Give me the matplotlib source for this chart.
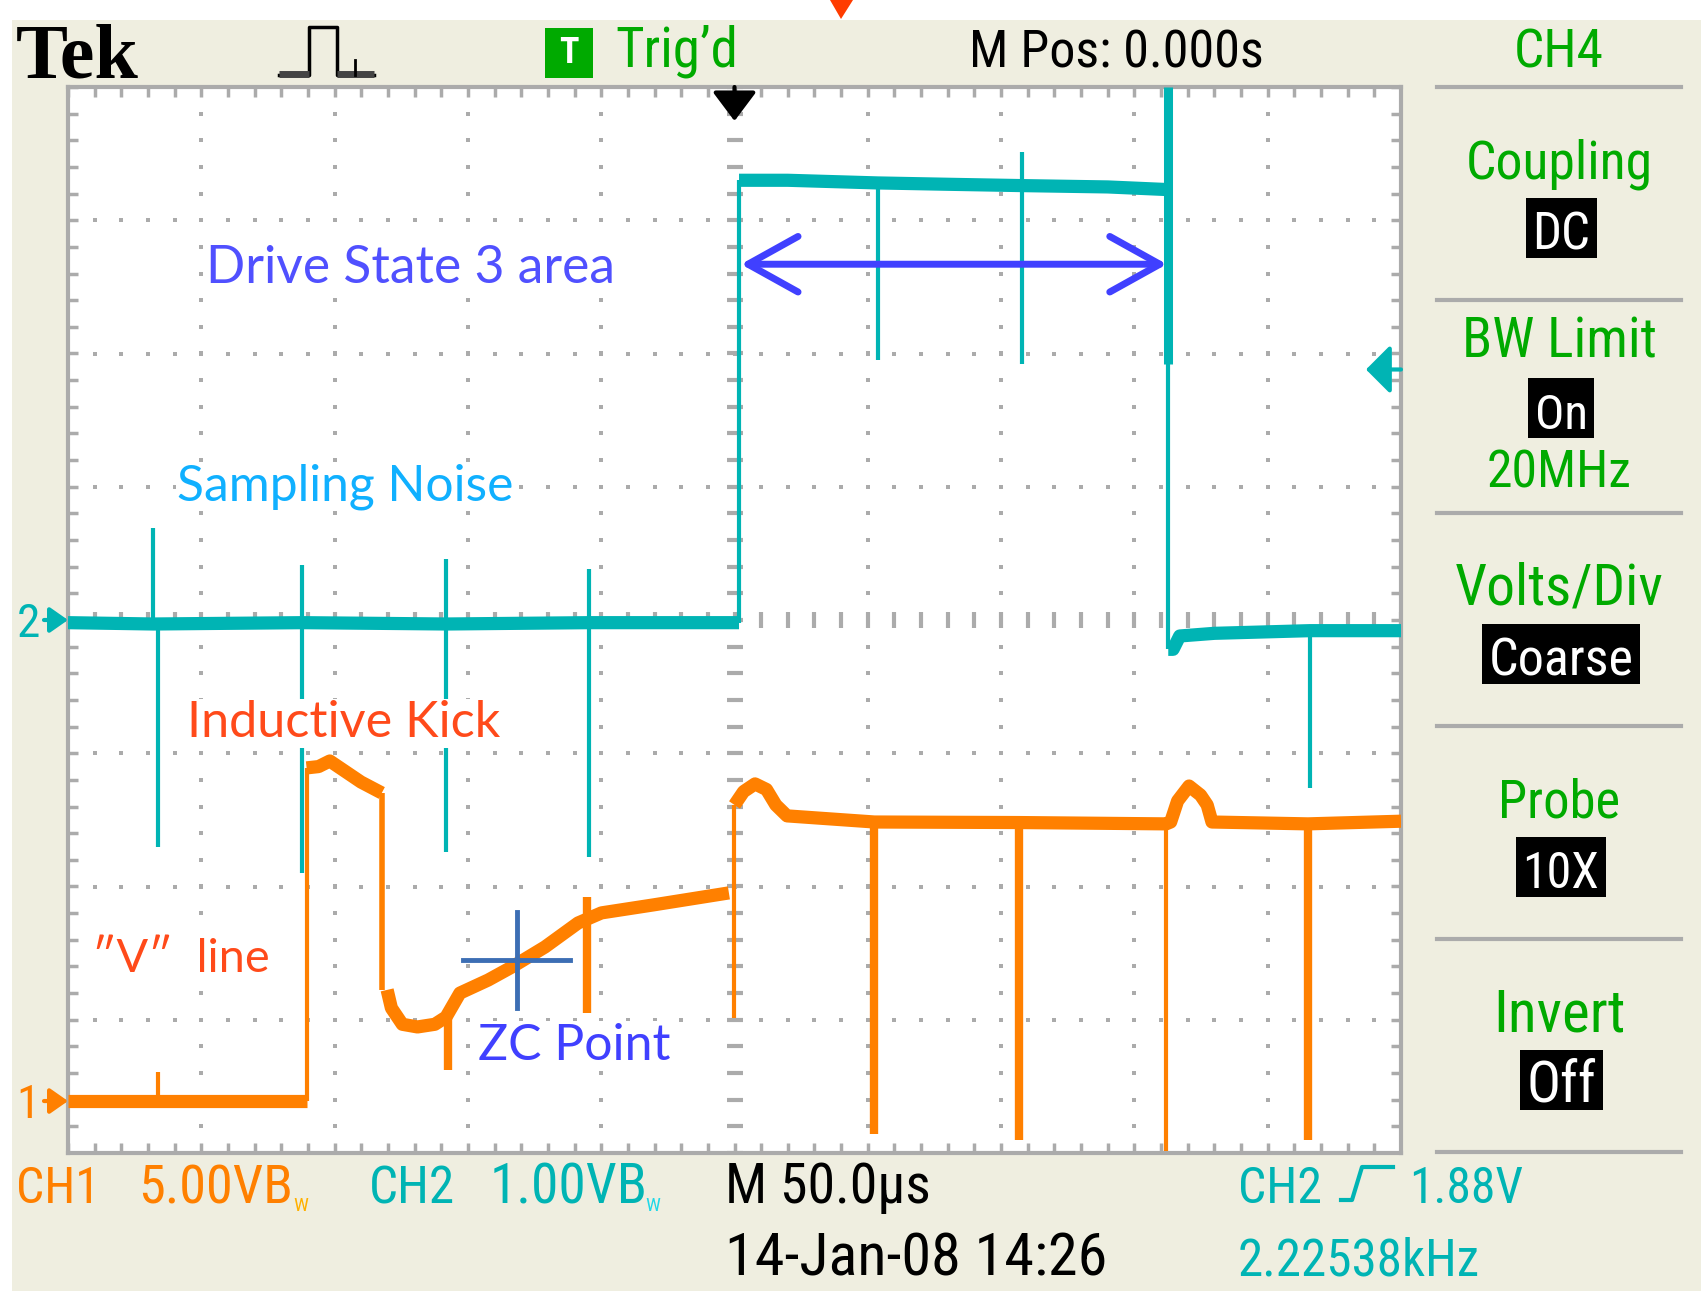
import matplotlib
matplotlib.use("Agg")
import matplotlib.pyplot as plt
from matplotlib import font_manager
from matplotlib.patches import Rectangle, Polygon
import numpy as np

W, H, DPI = 1701, 1291, 100

# ---------------- scope settings ----------------
US_PER_DIV = 50.0
CH1_VDIV, CH1_GND = 5.0, -3.61      # ground marker, divisions from centre
CH2_VDIV, CH2_GND = 1.0, 0.0
TRIG_LEVEL = 1.88                   # volts on CH2

# ---------------- CH2 trace (cyan), time in us, volts ----------------
ch2_low_t = [-250, -218, -162, -108, -54.6, 1.7]
ch2_low_v = [-0.02, -0.03, -0.02, -0.03, -0.02, -0.02]
ch2_high_t = [1.7, 20, 53.8, 80, 108, 140, 162.7]
ch2_high_v = [3.30, 3.30, 3.28, 3.27, 3.26, 3.25, 3.23]
ch2_end_t = [162.7, 164.5, 167, 180, 215.8, 250]
ch2_end_v = [-0.22, -0.22, -0.12, -0.10, -0.08, -0.08]
# edges and sampling spikes: time, low end, high end, width
ch2_strokes_t = [1.7, 162.7, 162.7, -218.0, -216.1, -162.2, -108.3, -54.6, 53.8, 108.0, 215.8]
ch2_strokes_lo = [-0.02, 1.92, -0.22, -0.02, -1.70, -1.90, -1.74, -1.78, 1.95, 1.92, -1.26]
ch2_strokes_hi = [3.30, 4.00, 1.92, 0.69, -0.02, 0.41, 0.46, 0.38, 3.28, 3.51, -0.08]
ch2_strokes_lw = [3, 6.5, 3, 3, 3, 3, 3, 3, 3, 3, 3]

# ---------------- CH1 trace (orange) ----------------
ch1_base_t = [-250, -216.2, -160.5]
ch1_base_v = [0.0, 0.0, 0.0]
ch1_kick_t = [-160.5, -156.0, -151.8, -140.1, -132.3]
ch1_kick_v = [12.50, 12.55, 12.76, 11.97, 11.56]
ch1_vline_t = [-130.3, -128.7, -124.6, -118.9, -112.4, -108.2, -103.0, -92.4, -83.5, -71.1, -58.7, -49.9, -30.4, -2.1]
ch1_vline_v = [4.17, 3.49, 2.88, 2.78, 2.88, 3.15, 4.05, 4.54, 5.03, 5.78, 6.68, 7.06, 7.36, 7.81]
ch1_high_t = [0.0, 3.4, 7.7, 12.0, 15.5, 19.7, 52.5, 106.7, 161.9, 163.6, 166.2, 170.5, 174.8, 177.3, 179.1, 215.1, 250]
ch1_high_v = [11.11, 11.61, 11.90, 11.69, 11.11, 10.70, 10.47, 10.45, 10.40, 10.47, 11.26, 11.82, 11.48, 11.11, 10.47, 10.40, 10.50]
ch1_strokes_t = [-160.5, -132.2, -0.3, -216.2, -107.5, -55.2, 52.5, 106.7, 161.9, 215.1]
ch1_strokes_lo = [0.0, 4.17, 3.12, 0.0, 1.17, 3.30, -1.24, -1.46, -1.88, -1.46]
ch1_strokes_hi = [12.50, 11.56, 11.11, 1.09, 3.15, 7.66, 10.47, 10.45, 10.40, 10.40]
ch1_strokes_lw = [3, 4, 3, 3, 6, 6, 6, 6, 3, 6]

# ---------------- annotations ----------------
ann_text = ['Drive State 3 area', 'Sampling Noise', 'Inductive Kick', '″V″  line', 'ZC Point']
ann_t = [-198.2, -209.1, -205.4, -241.0, -96.2]
ann_div = [2.53, 0.90, -0.88, -2.64, -3.30]
ann_color = ['#5050FF', '#10B0FF', '#FF4A1A', '#FF4A1A', '#4040FF']
ann_width = [409, 336, 313, 177, 192]
ds3_t = (2.4, 162.2)        # double arrow span
ds3_div = 2.67
zc_t, zc_v = -81.7, 5.3     # ZC cross on CH1
zc_dt, zc_dv = 20.0, 1.8

# ---------------- side menu ----------------
menu_head = 'CH4'
menu_titles = ['Coupling', 'BW Limit', 'Volts/Div', 'Probe', 'Invert']
menu_values = ['DC', 'On', 'Coarse', '10X', 'Off']
menu_notes = ['', '20MHz', '', '', '']
menu_title_w = [187, 195, 209, 122, 132]
menu_value_w = [58, 53, 145, 77, 70]

BG = '#EFEEE0'
GRAT = '#ABABAB'
CYAN = '#00B4B4'
ORANGE = '#FF8000'
GREEN = '#00AA00'

avail = {f.name for f in font_manager.fontManager.ttflist}
SCOPE_FONT = next((f for f in ['Liberation Sans Narrow', 'DejaVu Sans Condensed', 'Roboto Condensed',
                               'Noto Sans Condensed', 'Open Sans Condensed'] if f in avail), 'DejaVu Sans')
SCOPE_WEIGHT = 'light' if SCOPE_FONT == 'Open Sans Condensed' else 'normal'
ANN_FONT = ['Lato', 'DejaVu Sans']


def d1(v):
    return CH1_GND + np.asarray(v, float) / CH1_VDIV


def d2(v):
    return CH2_GND + np.asarray(v, float) / CH2_VDIV


fig = plt.figure(figsize=(W / DPI, H / DPI), dpi=DPI)
renderer = fig.canvas.get_renderer()


def fit(t, width_px):
    w = t.get_window_extent(renderer).width
    t.set_fontsize(t.get_fontsize() * width_px / w)
    return t


# background / frame in pixel coords
bg = fig.add_axes([0, 0, 1, 1])
bg.set_xlim(0, W)
bg.set_ylim(H, 0)
bg.axis('off')
bg.add_patch(Rectangle((12, 20), W, H, color=BG, lw=0))

# graticule axes
ax = fig.add_axes([68 / W, 1 - 1153 / H, 1333 / W, 1066 / H])
ax.set_xlim(-5 * US_PER_DIV, 5 * US_PER_DIV)
ax.set_ylim(-4, 4)
ax.set_facecolor('white')
ax.set_xticks([])
ax.set_yticks([])
for s in ax.spines.values():
    s.set_color(GRAT)
    s.set_linewidth(3)

sub_t = np.arange(-250, 250.1, US_PER_DIV / 5)
sub_y = np.arange(-4, 4.01, 0.2)
dot = dict(ls='none', marker='s', ms=2.8, mew=0, color=GRAT)
for tm in np.arange(-200, 201, 50):
    if tm != 0:
        ax.plot(np.full_like(sub_y, tm), sub_y, **dot)
for ym in range(-3, 4):
    if ym != 0:
        ax.plot(sub_t[1:-1], np.full_like(sub_t[1:-1], ym), **dot)
ax.plot(np.zeros_like(sub_y), sub_y, ls='none', marker='_', ms=11, mew=3, color=GRAT)
ax.plot(sub_t, np.zeros_like(sub_t), ls='none', marker='|', ms=11, mew=3, color=GRAT)
tk = dict(ls='none', ms=7, mew=2.5, color=GRAT)
ax.plot(sub_t, np.full_like(sub_t, 4), marker=3, **tk)
ax.plot(sub_t, np.full_like(sub_t, -4), marker=2, **tk)
ax.plot(np.full_like(sub_y, -250), sub_y, marker=1, **tk)
ax.plot(np.full_like(sub_y, 250), sub_y, marker=0, **tk)

# traces
band = dict(lw=9.5, solid_capstyle='butt', solid_joinstyle='round', zorder=5)
for tt, vv in [(ch2_low_t, ch2_low_v), (ch2_high_t, ch2_high_v), (ch2_end_t, ch2_end_v)]:
    ax.plot(tt, d2(vv), color=CYAN, **band)
for t, lo, hi, lw in zip(ch2_strokes_t, ch2_strokes_lo, ch2_strokes_hi, ch2_strokes_lw):
    ax.plot([t, t], d2([lo, hi]), color=CYAN, lw=lw, solid_capstyle='butt', zorder=5)
for tt, vv in [(ch1_base_t, ch1_base_v), (ch1_kick_t, ch1_kick_v),
               (ch1_vline_t, ch1_vline_v), (ch1_high_t, ch1_high_v)]:
    ax.plot(tt, d1(vv), color=ORANGE, **band)
for t, lo, hi, lw in zip(ch1_strokes_t, ch1_strokes_lo, ch1_strokes_hi, ch1_strokes_lw):
    ax.plot([t, t], d1([lo, hi]), color=ORANGE, lw=lw, solid_capstyle='butt', zorder=5)

# ground markers
for gnd, col, lab in [(CH2_GND, CYAN, '2'), (CH1_GND, ORANGE, '1')]:
    ax.annotate('', xy=(-250, gnd), xytext=(-24, 0), textcoords='offset pixels', annotation_clip=False,
                arrowprops=dict(arrowstyle='-|>,head_length=0.5,head_width=0.35', color=col, lw=3,
                                mutation_scale=22, shrinkA=0, shrinkB=0))
    ax.annotate(lab, xy=(-250, gnd), xytext=(-40, -17), textcoords='offset pixels', annotation_clip=False,
                ha='center', va='baseline', color=col, fontsize=34, family=SCOPE_FONT, fontweight='normal')

# trigger position (top) and trigger level (right)
div_per_px = 8 / 1066
us_per_px = 500 / 1333
ax.annotate('', xy=(0, 4 - 34 * div_per_px), xytext=(0, 4), annotation_clip=False,
            arrowprops=dict(arrowstyle='-|>,head_length=0.6,head_width=0.45', color='black', lw=3,
                            mutation_scale=30, shrinkA=0, shrinkB=0), zorder=6)
ax.annotate('', xy=(250 - 35 * us_per_px, d2(TRIG_LEVEL)), xytext=(250, d2(TRIG_LEVEL)),
            arrowprops=dict(arrowstyle='-|>,head_length=0.5,head_width=0.5', color=CYAN, lw=3,
                            mutation_scale=30, shrinkA=0, shrinkB=0), zorder=6)

# annotations (white boxes mask the traces as on the screen capture)
for s, t, dv, c, w in zip(ann_text, ann_t, ann_div, ann_color, ann_width):
    fit(ax.text(t, dv, s, color=c, fontsize=30, family=ANN_FONT, fontweight='normal',
                ha='left', va='baseline', zorder=7,
                bbox=dict(facecolor='white', edgecolor='none', pad=1)), w)
ax.annotate('', xy=(ds3_t[0], ds3_div), xytext=(ds3_t[1], ds3_div),
            arrowprops=dict(arrowstyle='<->,head_length=0.9,head_width=0.5', color='#4040FF', lw=5,
                            mutation_scale=40, shrinkA=0, shrinkB=0), zorder=7)
ax.plot([zc_t - zc_dt, zc_t + zc_dt], d1([zc_v, zc_v]), color='#3C6EB4', lw=3.5, zorder=7)
ax.plot([zc_t, zc_t], d1([zc_v - zc_dv, zc_v + zc_dv]), color='#3C6EB4', lw=3.5, zorder=7)


def scope_text(x, y, s, width, color, ha='left', fs=40, **kw):
    kw.setdefault('family', SCOPE_FONT)
    kw.setdefault('fontweight', SCOPE_WEIGHT)
    t = bg.text(x, y, s, color=color, ha=ha, va='baseline', fontsize=fs, **kw)
    return fit(t, width)


# top bar
scope_text(16, 78, 'Tek', 123, 'black', fs=50, family='Liberation Serif', fontweight='bold')
bg.plot([279, 309, 309, 337, 337, 374], [75, 75, 27, 27, 75, 75], color='black', lw=2.5)
bg.plot([279, 309], [74, 74], color='#444444', lw=5, solid_capstyle='butt')
bg.plot([337, 374], [74, 74], color='#444444', lw=5, solid_capstyle='butt')
bg.plot([355, 355], [60, 75], color='black', lw=2)
bg.add_patch(Rectangle((545, 28), 48, 50, color=GREEN, lw=0))
bg.text(569, 53, 'T', color='white', ha='center', va='center', fontsize=26, family=SCOPE_FONT, fontweight='bold')
scope_text(615, 67, 'Trig’d', 123, GREEN)
scope_text(969, 67, 'M Pos: 0.000s', 295, 'black')
scope_text(1559, 67, menu_head, 90, GREEN, ha='center')
bg.add_patch(Polygon([[830, 0], [853, 0], [841, 19]], closed=True, color='#FF3C00', lw=0))

# side menu
seps = 87 + 213 * np.arange(6)
for y in seps:
    bg.plot([1437, 1681], [y, y], color=GRAT, lw=3)
for i, (ttl, val, note) in enumerate(zip(menu_titles, menu_values, menu_notes)):
    top = seps[i]
    if note:
        ty, vy = top + 57, top + 108
        scope_text(1559, top + 188, note, 145, GREEN, ha='center')
    else:
        ty, vy = top + 92, top + 141
    scope_text(1559, ty, ttl, menu_title_w[i], GREEN, ha='center')
    t = scope_text(1561, vy + 21, val, menu_value_w[i], 'white', ha='center')
    bw = menu_value_w[i] + 13
    bg.add_patch(Rectangle((1561 - bw / 2, vy - 30), bw, 60, color='black', lw=0, zorder=1))
    t.set_zorder(3)

# bottom readouts
scope_text(16, 1203, 'CH1', 84, ORANGE)
scope_text(138, 1203, '5.00VB', 155, ORANGE)
bg.text(293, 1211, 'W', color='#FFB000', fontsize=14, family=SCOPE_FONT, va='baseline')
scope_text(369, 1203, 'CH2', 86, CYAN)
scope_text(490, 1203, '1.00VB', 158, CYAN)
bg.text(645, 1211, 'W', color='#20D8E8', fontsize=14, family=SCOPE_FONT, va='baseline')
scope_text(725, 1203, 'M 50.0µs', 206, 'black')
scope_text(725, 1276, '14-Jan-08 14:26', 382, 'black')
scope_text(1238, 1203, 'CH2', 84, CYAN)
bg.plot([1341, 1352, 1362, 1393], [1200, 1200, 1167, 1167], color=CYAN, lw=3)
scope_text(1409, 1203, '1.88V', 114, CYAN)
scope_text(1238, 1276, '2.22538kHz', 242, CYAN)

fig.savefig('out.png', dpi=DPI)
